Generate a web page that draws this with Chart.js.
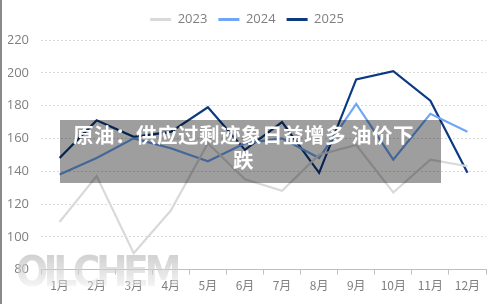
<!DOCTYPE html>
<html>
<head>
<meta charset="utf-8">
<script src="https://cdn.jsdelivr.net/npm/chart.js@4"></script>
<style>
  html, body { margin: 0; padding: 0; background: #fff; }
  #wrap { position: relative; width: 500px; height: 304px; border-left: 2px solid #8a8a8a; box-sizing: border-box; overflow: hidden; }
  #myChart { position: absolute; left: -2px; top: 0; }
  #banner {
    position: absolute; left: 58px; top: 120px; width: 381px; height: 63px;
    background: rgba(0, 0, 0, 0.38); color: #fff; box-sizing: border-box;
    padding: 2px 22px 0 8px; text-align: center;
    font: bold 20.5px "Noto Sans CJK SC", sans-serif; line-height: 25px; letter-spacing: 0.5px;
  }
  #mark {
    position: absolute; left: 14px; top: 247px;
    font: bold 42px "Liberation Sans Narrow", "DejaVu Sans Condensed", sans-serif; letter-spacing: -4.5px;
    background: linear-gradient(#c4c4c4 20%, rgba(255,255,255,0.5));
    -webkit-background-clip: text; background-clip: text; color: transparent;
    opacity: 0.75;
  }
</style>
</head>
<body>
<div id="wrap">
  <canvas id="myChart" width="500" height="304"></canvas>
  <div id="mark">OILCHEM</div>
  <div id="banner">原油：供应过剩迹象日益增多 油价下跌</div>
</div>
<script>
const months = ['1月', '2月', '3月', '4月', '5月', '6月', '7月', '8月', '9月', '10月', '11月', '12月'];
const data2023 = [109, 137, 90, 116, 157, 135, 128, 150, 156, 127, 147, 143];
const data2024 = [138, 148, 160, 154, 146, 157, 160, 148, 181, 147, 175, 164];
const data2025 = [148, 171, 161, 164, 179, 153, 170, 139, 196, 201, 183, 139];
const yTicks = [80, 100, 120, 140, 160, 180, 200, 220];

const labelColor = '#7f7f7f';

// nudge the legend up a few px after layout, plot area stays put
const legendNudge = {
    id: 'legendNudge',
    afterLayout(chart) {
        chart.legend.top -= 4;
        chart.legend.bottom -= 4;
    }
};

const ctx = document.getElementById('myChart').getContext('2d');
const myChart = new Chart(ctx, {
    type: 'line',
    data: {
        labels: months,
        datasets: [
            { label: '2023', data: data2023, borderColor: '#d9d9d9', backgroundColor: '#d9d9d9' },
            { label: '2024', data: data2024, borderColor: '#6fa6f6', backgroundColor: '#6fa6f6' },
            { label: '2025', data: data2025, borderColor: '#0c3a82', backgroundColor: '#0c3a82' }
        ]
    },
    plugins: [legendNudge],
    options: {
        responsive: false,
        animation: false,
        elements: {
            line: { borderWidth: 2.2, tension: 0 },
            point: { radius: 0 }
        },
        layout: { padding: { left: 8, right: 14, top: 6, bottom: 7 } },
        plugins: {
            legend: {
                position: 'top',
                labels: {
                    color: labelColor,
                    font: { family: '"Open Sans", "Noto Sans", sans-serif', size: 13 },
                    boxWidth: 21,
                    boxHeight: 0,
                    padding: 11,
                    generateLabels(chart) {
                        return chart.data.datasets.map((ds, i) => ({
                            text: ds.label,
                            fillStyle: ds.borderColor,
                            strokeStyle: ds.borderColor,
                            lineWidth: 3,
                            fontColor: labelColor,
                            datasetIndex: i
                        }));
                    }
                }
            },
            tooltip: { enabled: false }
        },
        scales: {
            x: {
                offset: true,
                grid: { display: true, drawOnChartArea: false, tickLength: 5, color: '#bfbfbf', offset: true },
                border: { color: '#bfbfbf', width: 1 },
                ticks: {
                    color: labelColor,
                    font: { family: '"Noto Sans CJK SC", sans-serif', size: 12 },
                    padding: 4,
                    maxRotation: 0,
                    autoSkip: false
                }
            },
            y: {
                min: yTicks[0],
                max: yTicks[yTicks.length - 1],
                afterBuildTicks(axis) {
                    axis.ticks = yTicks.map(v => ({ value: v }));
                },
                afterFit(axis) {
                    axis.width = 33;
                },
                grid: { color: '#d9d9d9', drawTicks: false, lineWidth: 1 },
                border: { display: false, dash: [2, 2] },
                ticks: {
                    color: labelColor,
                    font: { family: '"Open Sans", "Noto Sans", sans-serif', size: 13 },
                    padding: 12
                }
            }
        }
    }
});
</script>
</body>
</html>
